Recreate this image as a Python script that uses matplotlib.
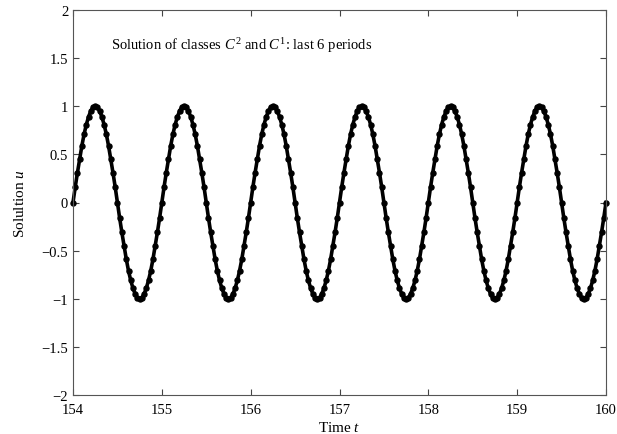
import numpy as np
import matplotlib
matplotlib.use('Agg')
import matplotlib.pyplot as plt

plt.rcParams['font.family'] = ['Liberation Serif', 'DejaVu Serif']
plt.rcParams['mathtext.fontset'] = 'custom'
plt.rcParams['mathtext.it'] = 'Liberation Serif:italic'
plt.rcParams['mathtext.rm'] = 'Liberation Serif'

# one period of the solution, read at steps of 0.025 in t
period_u = [0.00, 0.16, 0.31, 0.45, 0.59, 0.71, 0.81, 0.89, 0.95, 0.99,
            1.00, 0.99, 0.95, 0.89, 0.81, 0.71, 0.59, 0.45, 0.31, 0.16,
            0.00, -0.16, -0.31, -0.45, -0.59, -0.71, -0.81, -0.89, -0.95, -0.99,
            -1.00, -0.99, -0.95, -0.89, -0.81, -0.71, -0.59, -0.45, -0.31, -0.16]
period_starts = [154, 155, 156, 157, 158, 159]
t_end = 160.0
u_end = 0.00

step = 1.0 / len(period_u)
t = []
u = []
for p in period_starts:
    for k, val in enumerate(period_u):
        t.append(p + k * step)
        u.append(val)
t.append(t_end)
u.append(u_end)

fig = plt.figure(figsize=(6.17, 4.35), dpi=100)
ax = fig.add_axes([73 / 617, 1 - 396 / 435, (606 - 73) / 617, (396 - 11) / 435])

ax.plot(t, u, color='black', linewidth=2.6, marker='o', markersize=3.6, clip_on=False)

ax.set_xlim(154, 160)
ax.set_ylim(-2, 2)
ax.set_xticks([154, 155, 156, 157, 158, 159, 160])
ax.set_yticks([-2, -1.5, -1, -0.5, 0, 0.5, 1, 1.5, 2])
ax.set_yticklabels(['\u22122', '\u22121.5', '\u22121', '\u22120.5', '0', '0.5', '1', '1.5', '2'])
ax.tick_params(direction='in', top=True, right=True, labelsize=10.5, length=4, color='#444')
ax.tick_params(axis='x', pad=6)
for s in ax.spines.values():
    s.set_color('#555')
    s.set_linewidth(0.8)

ax.set_xlabel('Time $t$', fontsize=11, labelpad=3)
ax.set_ylabel('Solultion $u$', fontsize=11, labelpad=10)

ax.text(0.071, 0.91, 'Solution of classes $C^2$ and $C^1$: last 6 periods',
        transform=ax.transAxes, fontsize=10.5, ha='left', va='center')

fig.savefig('out.png', dpi=100)
